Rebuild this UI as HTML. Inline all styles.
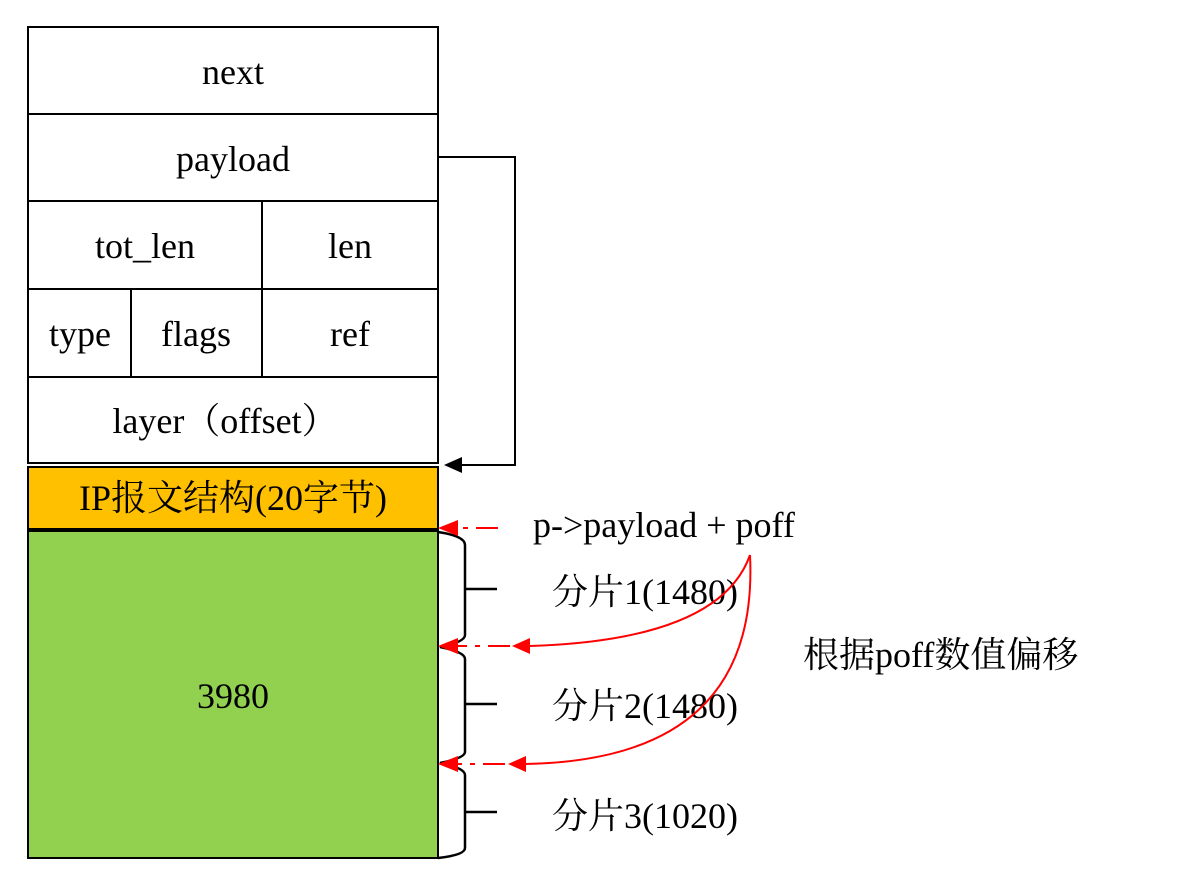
<!DOCTYPE html>
<html><head><meta charset="utf-8"><style>
body{margin:0;background:#fff}
text{font-family:"Liberation Serif","Noto Serif CJK SC",serif;font-size:36px;fill:#000}
</style></head><body>
<svg width="1183" height="884" viewBox="0 0 1183 884" xmlns="http://www.w3.org/2000/svg">
<defs>
<marker id="r" markerWidth="10" markerHeight="10" refX="9" refY="5" orient="auto" markerUnits="userSpaceOnUse" viewBox="0 0 10 10"><path d="M0,0 L10,5 L0,10 z" fill="#f00"/></marker>
</defs>
<g stroke="#000" stroke-width="2" fill="#fff">
<rect x="28" y="27" width="410" height="436"/>
<line x1="28" y1="114" x2="438" y2="114"/>
<line x1="28" y1="201" x2="438" y2="201"/>
<line x1="28" y1="289" x2="438" y2="289"/>
<line x1="28" y1="377" x2="438" y2="377"/>
<line x1="262" y1="201" x2="262" y2="377"/>
<line x1="131" y1="289" x2="131" y2="377"/>
<rect x="28" y="467" width="410" height="62" fill="#FFC000"/>
<rect x="28" y="531" width="410" height="327" fill="#92D050"/>
</g>
<text x="233" y="84" text-anchor="middle">next</text>
<text x="233" y="171" text-anchor="middle">payload</text>
<text x="145" y="258" text-anchor="middle">tot_len</text>
<text x="350" y="258" text-anchor="middle">len</text>
<text x="80" y="346" text-anchor="middle">type</text>
<text x="196" y="346" text-anchor="middle">flags</text>
<text x="350" y="346" text-anchor="middle">ref</text>
<text x="225" y="433" text-anchor="middle">layer（offset）</text>
<text x="233" y="510" text-anchor="middle">IP报文结构(20字节)</text>
<text x="233" y="708" text-anchor="middle">3980</text>
<path d="M438,157 H515 V465 H456" fill="none" stroke="#000" stroke-width="2"/>
<path d="M444,465 L462,457 L462,473 z" fill="#000"/>
<g fill="none" stroke="#000" stroke-width="2.5">
<path d="M438,532 Q465,536 465,545 V635 Q465,642 440,647 Q465,652 465,659 V752 Q465,758 440,763 Q465,768 465,775 V848 Q465,855 438,858"/>
<line x1="465" y1="589" x2="497" y2="589"/>
<line x1="465" y1="704" x2="497" y2="704"/>
<line x1="465" y1="812" x2="497" y2="812"/>
</g>
<text x="533" y="537" font-size="36">p-&gt;payload + poff</text>
<text x="552" y="604">分片1(1480)</text>
<text x="552" y="718">分片2(1480)</text>
<text x="552" y="828">分片3(1020)</text>
<text x="803" y="667">根据poff数值偏移</text>
<g stroke="#f00" stroke-width="2" fill="none">
<path d="M498,528 H455" stroke-dasharray="22,8,5,8"/>
<path d="M510,646 H455" stroke-dasharray="22,8,5,8"/>
<path d="M505,764 H455" stroke-dasharray="22,8,5,8"/>
<path d="M750,555 Q720,640 530,646"/>
<path d="M750,555 Q760,760 525,764"/>
</g>
<g fill="#f00">
<path d="M438,528 L458,520 L458,536 z"/>
<path d="M438,646 L458,638 L458,654 z"/>
<path d="M438,764 L458,756 L458,772 z"/>
<path d="M512,646 L530,638 L530,654 z"/>
<path d="M508,764 L526,756 L526,772 z"/>
</g>
</svg>
</body></html>
